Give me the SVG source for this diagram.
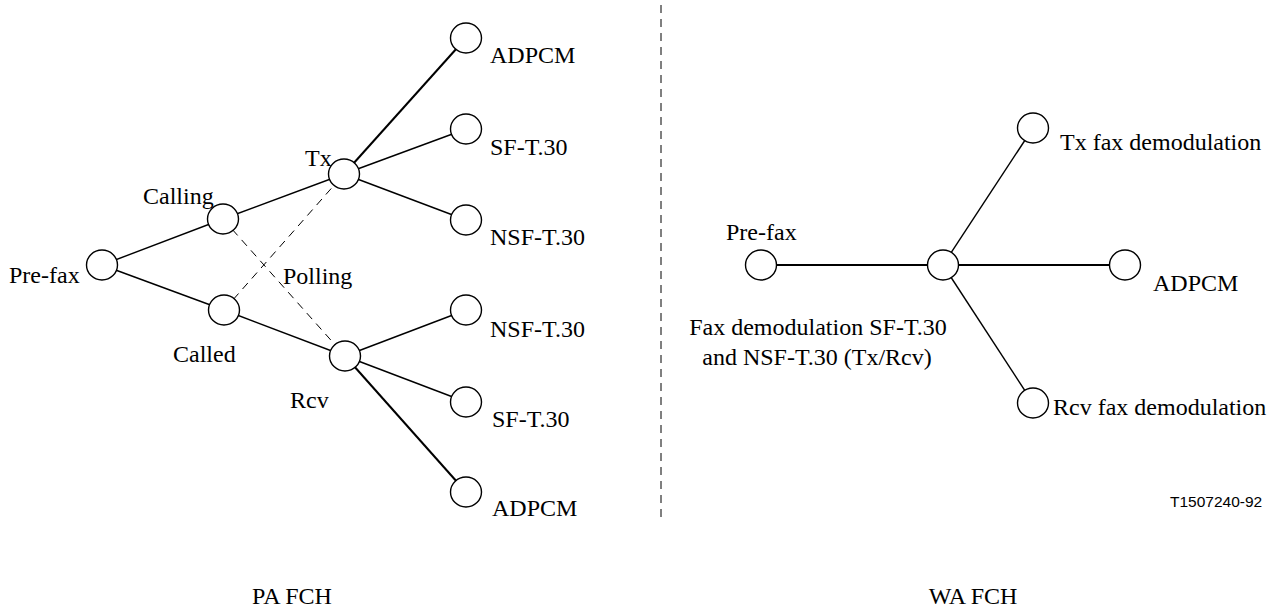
<svg xmlns="http://www.w3.org/2000/svg" width="1278" height="609" viewBox="0 0 1278 609">
<style>
.n{fill:#fff;stroke:#000;stroke-width:1.4}
.c{stroke:#000;stroke-width:1.4;fill:none}
.t{stroke:#000;stroke-width:2;fill:none}
.d{stroke:#000;stroke-width:1;stroke-dasharray:8,6;fill:none}
text{font-family:"Liberation Serif","Times New Roman",serif;font-size:24px;fill:#000}
.s{font-family:"Liberation Sans",Arial,sans-serif;font-size:15.5px}
</style>
<line class="d" x1="661" y1="5" x2="661" y2="523"/>
<g id="connectors">
<line class="c" x1="102" y1="265" x2="223" y2="219"/>
<line class="c" x1="102" y1="265" x2="224" y2="310"/>
<line class="c" x1="223" y1="219" x2="344" y2="174"/>
<line class="c" x1="224" y1="310" x2="345" y2="356"/>
<line class="t" x1="344" y1="174" x2="466" y2="38"/>
<line class="c" x1="344" y1="174" x2="466" y2="129"/>
<line class="c" x1="344" y1="174" x2="466" y2="220"/>
<line class="c" x1="345" y1="356" x2="466" y2="310"/>
<line class="c" x1="345" y1="356" x2="466" y2="402"/>
<line class="t" x1="345" y1="356" x2="466" y2="492"/>
<line class="d" x1="223" y1="219" x2="345" y2="356"/>
<line class="d" x1="224" y1="310" x2="344" y2="174"/>
<line class="t" x1="761" y1="265" x2="943" y2="265"/>
<line class="t" x1="943" y1="265" x2="1125" y2="265"/>
<line class="c" x1="943" y1="265" x2="1033" y2="128"/>
<line class="c" x1="943" y1="265" x2="1033" y2="403"/>
</g>
<g id="pa-prefax"><ellipse class="n" cx="102" cy="265" rx="15.5" ry="15"/><text x="9" y="283">Pre-fax</text></g>
<g id="pa-calling"><ellipse class="n" cx="223" cy="219" rx="15.5" ry="15"/><text x="143" y="204">Calling</text></g>
<g id="pa-called"><ellipse class="n" cx="224" cy="310" rx="15.5" ry="15"/><text x="173" y="362">Called</text></g>
<g id="pa-tx"><ellipse class="n" cx="344" cy="174" rx="15.5" ry="15"/><text x="305" y="166">Tx</text></g>
<g id="pa-rcv"><ellipse class="n" cx="345" cy="356" rx="15.5" ry="15"/><text x="290" y="408">Rcv</text></g>
<g id="pa-polling"><text x="283" y="284">Polling</text></g>
<g id="pa-tx-adpcm"><ellipse class="n" cx="466" cy="38" rx="15.5" ry="15"/><text x="490" y="63">ADPCM</text></g>
<g id="pa-tx-sf"><ellipse class="n" cx="466" cy="129" rx="15.5" ry="15"/><text x="490" y="155">SF-T.30</text></g>
<g id="pa-tx-nsf"><ellipse class="n" cx="466" cy="220" rx="15.5" ry="15"/><text x="490" y="245">NSF-T.30</text></g>
<g id="pa-rcv-nsf"><ellipse class="n" cx="466" cy="310" rx="15.5" ry="15"/><text x="490" y="337">NSF-T.30</text></g>
<g id="pa-rcv-sf"><ellipse class="n" cx="466" cy="402" rx="15.5" ry="15"/><text x="492" y="427">SF-T.30</text></g>
<g id="pa-rcv-adpcm"><ellipse class="n" cx="466" cy="492" rx="15.5" ry="15"/><text x="492" y="516">ADPCM</text></g>
<g id="wa-prefax"><ellipse class="n" cx="761" cy="265" rx="15.5" ry="15"/><text x="726" y="240">Pre-fax</text></g>
<g id="wa-center"><ellipse class="n" cx="943" cy="265" rx="15.5" ry="15"/><text text-anchor="middle" x="818" y="335">Fax demodulation SF-T.30</text><text text-anchor="middle" x="817" y="365">and NSF-T.30 (Tx/Rcv)</text></g>
<g id="wa-tx"><ellipse class="n" cx="1033" cy="128" rx="15.5" ry="15"/><text x="1060" y="150">Tx fax demodulation</text></g>
<g id="wa-adpcm"><ellipse class="n" cx="1125" cy="265" rx="15.5" ry="15"/><text x="1153" y="291">ADPCM</text></g>
<g id="wa-rcv"><ellipse class="n" cx="1033" cy="403" rx="15.5" ry="15"/><text x="1053" y="415">Rcv fax demodulation</text></g>
<text class="s" x="1170" y="507">T1507240-92</text>
<text x="292" y="604" text-anchor="middle">PA FCH</text>
<text x="973" y="604" text-anchor="middle">WA FCH</text>
</svg>
